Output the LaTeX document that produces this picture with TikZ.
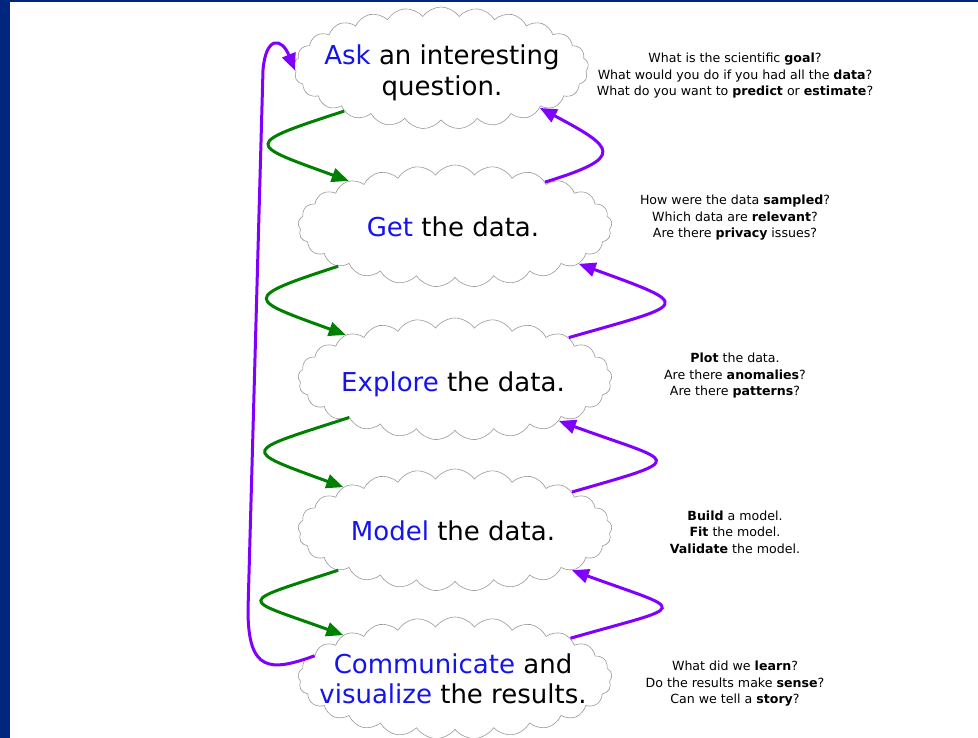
\documentclass[tikz,border=0pt]{standalone}
\usepackage{fontspec}
\setmainfont{DejaVu Sans}
\usetikzlibrary{shapes.symbols}
\usetikzlibrary{arrows.meta}
\definecolor{framenavy}{RGB}{0,38,128}
\definecolor{stepblue}{RGB}{20,20,235}
\definecolor{forwardgreen}{RGB}{0,128,0}
\definecolor{backviolet}{RGB}{128,0,255}
\newcommand{\stepword}[1]{\textcolor{stepblue}{#1}}
\tikzstyle{step_cloud}=[cloud, cloud puffs=25, cloud puff arc=110, cloud ignores aspect,
    draw=black!40, line width=0.6pt, fill=white,
    minimum width=314pt, minimum height=122pt, inner sep=0pt]
\tikzstyle{step_text}=[align=center, font=\fontsize{26}{30.5}\selectfont]
\tikzstyle{note_text}=[align=center, font=\fontsize{12.6}{16.5}\selectfont]
\tikzstyle{arrow_forward}=[draw=forwardgreen, line width=3pt,
    -{Triangle[length=17pt,width=14pt]}]
\tikzstyle{arrow_back}=[draw=backviolet, line width=3pt,
    -{Triangle[length=17pt,width=14pt]}]

\begin{document}
\begin{tikzpicture}[x=1pt,y=-1pt]
          \useasboundingbox (0,0) rectangle (978,738);
          \fill[framenavy] (0,0) rectangle (10,738);
          \fill[framenavy] (0,0) rectangle (978,2.5);
          \node[step_cloud, minimum width=295pt] (ask) at (441,68){};
          \node[step_cloud] (get) at (455,226){};
          \node[step_cloud] (explore) at (455,379){};
          \node[step_cloud] (model) at (455,530){};
          \node[step_cloud] (tell) at (455,678){};
          \node[step_text] (ask_txt) at (442,73){\stepword{Ask} an interesting\\question.};
          \node[step_text] (get_txt) at (453,227){\stepword{Get} the data.};
          \node[step_text] (explore_txt) at (453,384){\stepword{Explore} the data.};
          \node[step_text] (model_txt) at (453,531){\stepword{Model} the data.};
          \node[step_text] (tell_txt) at (453,679){\stepword{Communicate} and\\\stepword{visualize} the results.};
          \node[note_text] (ask_note) at (735,76){What is the scientific \textbf{goal}?\\What would you do if you had all the \textbf{data}?\\What do you want to \textbf{predict} or \textbf{estimate}?};
          \node[note_text] (get_note) at (735,218){How were the data \textbf{sampled}?\\Which data are \textbf{relevant}?\\Are there \textbf{privacy} issues?};
          \node[note_text] (explore_note) at (735,376){\textbf{Plot} the data.\\Are there \textbf{anomalies}?\\Are there \textbf{patterns}?};
          \node[note_text] (model_note) at (735,532){\textbf{Build} a model.\\\textbf{Fit} the model.\\\textbf{Validate} the model.};
          \node[note_text] (tell_note) at (735,684){What did we \textbf{learn}?\\Do the results make \textbf{sense}?\\Can we tell a \textbf{story}?};
          \draw[arrow_forward](ask.204) .. controls +(198:108pt) and +(160:108pt) .. (get.157);
          \draw[arrow_forward](get.199) .. controls +(198:104pt) and +(160:104pt) .. (explore.158);
          \draw[arrow_forward](explore.200) .. controls +(198:112pt) and +(160:112pt) .. (model.159);
          \draw[arrow_forward](model.199) .. controls +(198:110pt) and +(160:110pt) .. (tell.159);
          \draw[arrow_back](get.26) .. controls +(17:85pt) and +(-28:85pt) .. (ask.338);
          \draw[arrow_back](explore.20) .. controls +(16:125pt) and +(-20:125pt) .. (get.343);
          \draw[arrow_back](model.18) .. controls +(16:125pt) and +(-20:125pt) .. (explore.338);
          \draw[arrow_back](tell.19) .. controls +(16:125pt) and +(-20:125pt) .. (model.341);
          \coordinate (loop_bottom) at (248,610);
          \coordinate (loop_top) at (263,70);
          \draw[arrow_back](tell.171) .. controls (270,672) and (248,672) .. (loop_bottom)
              -- (loop_top) .. controls (266,35) and (282,38) .. (ask.181);
        \end{tikzpicture}
\end{document}
